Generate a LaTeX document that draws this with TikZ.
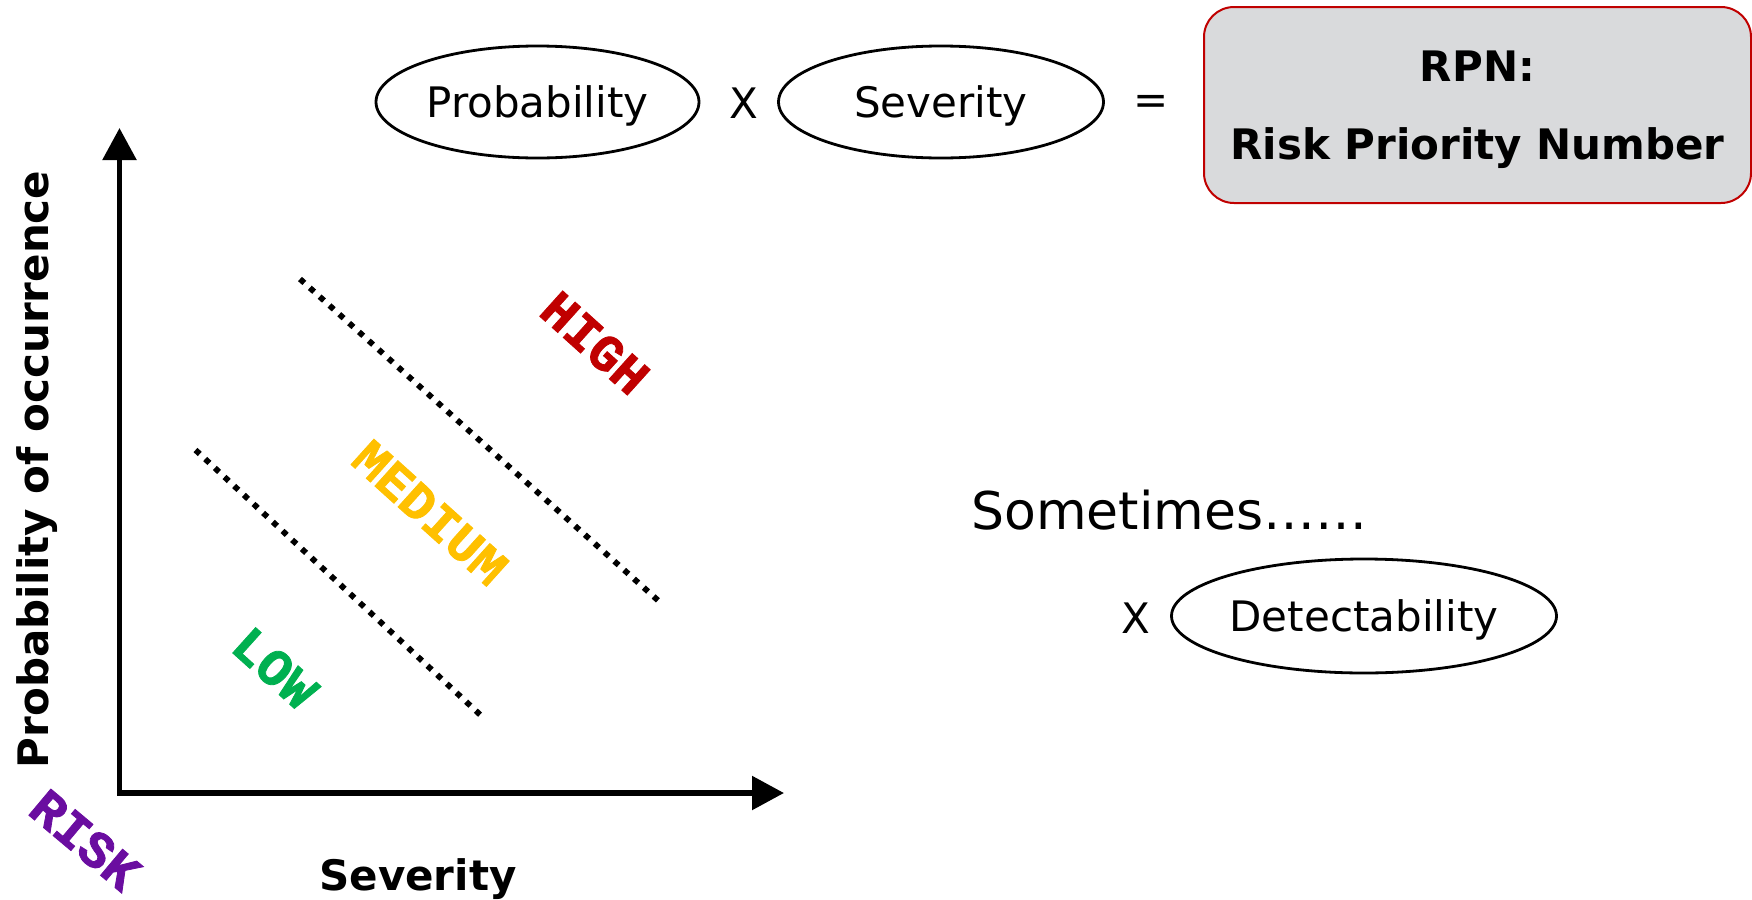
\documentclass[tikz,border=0pt]{standalone}
\usepackage{fontspec}
\setmainfont{DejaVu Sans}
\newfontfamily\zonefont[BoldFeatures={FakeBold=1.6}]{Liberation Mono}
\usetikzlibrary{shapes.geometric,arrows.meta}

\definecolor{riskhigh}{HTML}{C00000}
\definecolor{riskmed}{HTML}{FFC000}
\definecolor{risklow}{HTML}{00B050}
\definecolor{riskword}{HTML}{6A0DA0}
\definecolor{boxfill}{HTML}{D9DADC}
\definecolor{boxedge}{HTML}{C00000}

\begin{document}
\begin{tikzpicture}[x=0.5pt,y=-0.5pt,
  factor/.style={ellipse, draw, line width=1.4pt, inner sep=0pt, text depth=0pt,
    minimum height=56pt, font=\fontsize{21}{25}\selectfont},
  optext/.style={font=\fontsize{21}{25}\selectfont, inner sep=0pt},
  zone/.style={font=\zonefont\bfseries\fontsize{26}{30}\selectfont,
    inner sep=0pt, rotate=-42},
  axislabel/.style={font=\bfseries\fontsize{21}{25}\selectfont, inner sep=0pt},
  divider/.style={line width=2.9pt, dash pattern=on 2.9pt off 3.7pt},
  axisline/.style={line width=2.75pt, line join=miter,
    {Triangle[length=16pt,width=16.5pt]}-{Triangle[length=16pt,width=16.5pt]}}
]
\useasboundingbox (0,0) rectangle (1752,900);

% RPN formula
\node[factor, minimum width=161.5pt] (prob) at (537.5,102) {Probability};
\node[optext] (times1) at (744,103) {X};
\node[factor, minimum width=162.5pt] (sev) at (941,102) {Severity};
\node[optext] (equals) at (1151,105) {=};
\node[draw=boxedge, fill=boxfill, line width=1pt, rounded corners=15pt,
  minimum width=273.5pt, minimum height=98pt, align=center, text depth=0pt,
  font=\bfseries\fontsize{21}{39}\selectfont] (rpn) at (1477.5,105)
  {RPN:\\Risk Priority Number};

% optional third factor
\node[anchor=base west, inner sep=0pt, font=\fontsize{26}{30}\selectfont]
  (sometimes) at (971,529) {Sometimes……};
\node[optext] (times2) at (1136,618) {X};
\node[factor, minimum width=192.5pt, minimum height=57pt] (detect) at (1364,616) {Detectability};

% risk chart axes
\coordinate (ytop) at (119.5,128);
\coordinate (origin) at (119.5,793);
\coordinate (xend) at (784,793);
\draw[axisline] (ytop) -- (origin) -- (xend);

\node[axislabel, rotate=90] (ylabel) at (37,469.5) {Probability of occurrence};
\node[axislabel, anchor=base] (xlabel) at (418,890) {Severity};

% zone boundaries
\coordinate (hiA) at (300,279);
\coordinate (hiB) at (662,604);
\coordinate (loA) at (195.5,450);
\coordinate (loB) at (481.5,716);
\draw[divider] (hiA) -- (hiB);
\draw[divider] (loA) -- (loB);

% zone names
\node[zone, text=riskhigh] (high) at (595,343) {HIGH};
\node[zone, text=riskmed] (medium) at (430,513) {MEDIUM};
\node[zone, text=risklow] (low) at (275,668) {LOW};
\node[zone, text=riskword, rotate=2] (risk) at (85,840) {RISK};
\end{tikzpicture}
\end{document}
